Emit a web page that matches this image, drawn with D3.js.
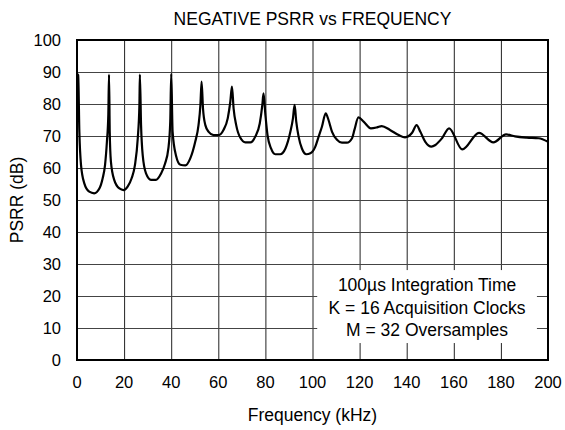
<!DOCTYPE html>
<html>
<head>
<meta charset="utf-8">
<script src="https://cdnjs.cloudflare.com/ajax/libs/d3/7.8.5/d3.min.js"></script>
<style>
  body { margin: 0; background: #fff; }
  text { font-family: "Liberation Sans", Arial, sans-serif; fill: #000; }
</style>
</head>
<body>
<div id="chart"></div>
<script>
// frequency (kHz) and negative PSRR (dB)
var freq = [0, 0.5, 1, 1.7, 3.1, 5.2, 7.3, 9.5, 10.9, 11.9, 12.7, 13.3, 13.6,
  13.9, 14.4, 15.8, 18, 19.8, 21.5, 23.2, 24.6, 25.8, 26.5, 26.7,
  27.2, 27.9, 29.3, 31.4, 33.5, 35.7, 37.4, 38.8, 39.6, 40,
  40.6, 42, 43.9, 46, 48.1, 50.2, 51.6, 52.4, 52.9,
  53.5, 54.5, 55.9, 58, 60.1, 62.2, 64, 65.1, 65.8,
  66.5, 67.6, 69.3, 71.5, 73.6, 75.7, 77.6, 78.7, 79.2,
  80, 80.9, 82.4, 84.2, 86.3, 88.5, 90.6, 91.7, 92.4,
  93.1, 94.1, 95.5, 97.4, 99.1, 101.2, 102.6, 104, 105.6,
  106.8, 108.3, 110.4, 112.5, 114.6, 116.8, 117.8, 119.5,
  121.7, 124.8, 127.4, 129.4, 132.9, 136.6, 139.3, 142.3, 144.2,
  145.8, 147.9, 150.5, 152.2, 155, 158, 163.6, 170.7, 176.8, 182.2,
  186, 191, 196, 200];
var psrr = [89.5, 89, 71.3, 61, 55.2, 52.6, 52.1, 53.6, 56.8, 60.9, 68.2, 76.6, 89.2,
  71.3, 62, 56.3, 53.6, 53.1, 54.2, 56.8, 60.9, 69.3, 79.7, 89.2,
  73.4, 64, 58.3, 56.3, 56.3, 58.3, 61.4, 66.1, 74.5, 89.4,
  71.3, 64, 61, 60.8, 63, 68.2, 73.4, 79.7, 87,
  78.6, 73.4, 71.3, 70.3, 70.3, 71.9, 75.5, 80.7, 85.4,
  78.6, 73.4, 69.5, 68, 68, 69.8, 73.9, 79.7, 83.3,
  76.6, 70.3, 66.1, 64.3, 64.3, 66.1, 71.3, 75.5, 79.7,
  74.5, 69.8, 66.1, 64.3, 64.6, 66.7, 69.8, 72.9, 77.1,
  75, 71.3, 68.8, 67.9, 67.9, 69.3, 71.9, 75.8,
  74.5, 72.4, 72.7, 73.1, 71.9, 70.3, 69.6, 71, 73.4,
  71.3, 68.2, 66.7, 67.2, 69.3, 72.4, 65.8, 71, 68, 70.5,
  69.9, 69.5, 69.3, 68.2];

var xTicks = [0, 20, 40, 60, 80, 100, 120, 140, 160, 180, 200];
var yTicks = [0, 10, 20, 30, 40, 50, 60, 70, 80, 90, 100];
var notes = ["100\u00b5s Integration Time", "K = 16 Acquisition Clocks", "M = 32 Oversamples"];

var w = 565, h = 430;
var pLeft = 77, pRight = 548, pTop = 40, pBottom = 360;

var svg = d3.select("#chart").append("svg")
  .attr("width", w)
  .attr("height", h);

var x = d3.scaleLinear().domain([0, 200]).range([pLeft, pRight]);
var y = d3.scaleLinear().domain([0, 100]).range([pBottom, pTop]);

// grid
svg.append("g")
  .attr("transform", "translate(0," + pBottom + ")")
  .call(d3.axisBottom(x).tickValues(xTicks).tickSize(-(pBottom - pTop)).tickFormat(""))
  .call(function(g) { g.select(".domain").remove(); })
  .selectAll("line").attr("stroke", "#222").attr("stroke-width", 1);

svg.append("g")
  .attr("transform", "translate(" + pLeft + ",0)")
  .call(d3.axisLeft(y).tickValues(yTicks).tickSize(-(pRight - pLeft)).tickFormat(""))
  .call(function(g) { g.select(".domain").remove(); })
  .selectAll("line").attr("stroke", "#444").attr("stroke-width", 1);

// tick labels
svg.append("g").selectAll("text")
  .data(xTicks)
  .enter()
  .append("text")
  .attr("x", function(d) { return x(d); })
  .attr("y", pBottom + 28)
  .attr("text-anchor", "middle")
  .attr("font-size", "16.5px")
  .text(function(d) { return d; });

svg.append("g").selectAll("text")
  .data(yTicks)
  .enter()
  .append("text")
  .attr("x", pLeft - 16)
  .attr("y", function(d) { return y(d) + 6; })
  .attr("text-anchor", "end")
  .attr("font-size", "16.5px")
  .text(function(d) { return d; });

// note box covers the grid
var boxX = x(102), boxW = x(195.3) - boxX;
var boxY = y(28.1);
svg.append("rect")
  .attr("x", boxX)
  .attr("y", boxY)
  .attr("width", boxW)
  .attr("height", y(5.3) - boxY)
  .attr("fill", "#fff");

svg.append("g").selectAll("text")
  .data(notes)
  .enter()
  .append("text")
  .attr("x", boxX + boxW / 2)
  .attr("y", function(d, i) { return 291 + i * 22.5; })
  .attr("text-anchor", "middle")
  .attr("font-size", "17.5px")
  .text(function(d) { return d; });

// curve
var line = d3.line()
  .x(function(d) { return x(d[0]); })
  .y(function(d) { return y(d[1]); })
  .curve(d3.curveMonotoneX);

svg.append("path")
  .datum(d3.zip(freq, psrr))
  .attr("d", line)
  .attr("fill", "none")
  .attr("stroke", "#000")
  .attr("stroke-width", 2.2)
  .attr("stroke-linejoin", "round");

// frame
svg.append("rect")
  .attr("x", pLeft)
  .attr("y", pTop)
  .attr("width", pRight - pLeft)
  .attr("height", pBottom - pTop)
  .attr("fill", "none")
  .attr("stroke", "#000")
  .attr("stroke-width", 2);

svg.append("text")
  .attr("x", (pLeft + pRight) / 2)
  .attr("y", 25)
  .attr("text-anchor", "middle")
  .attr("font-size", "17.5px")
  .text("NEGATIVE PSRR vs FREQUENCY");

svg.append("text")
  .attr("x", (pLeft + pRight) / 2)
  .attr("y", 421)
  .attr("text-anchor", "middle")
  .attr("font-size", "17.5px")
  .text("Frequency (kHz)");

svg.append("text")
  .attr("transform", "translate(23," + (pTop + pBottom) / 2 + ") rotate(-90)")
  .attr("text-anchor", "middle")
  .attr("font-size", "17.5px")
  .text("PSRR (dB)");
</script>
</body>
</html>
